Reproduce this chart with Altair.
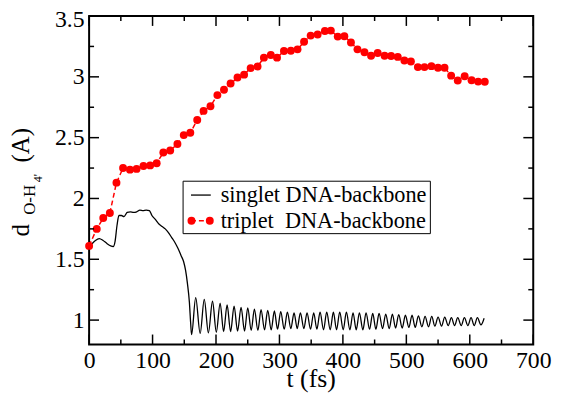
import altair as alt
import pandas as pd

# ---------------- data ----------------
trip_t = [0, 12, 22.3, 32.7, 43.1, 53.5, 64.4, 74.8, 85.7, 96.2,
          106.5, 117, 127.8, 139.2, 149.2, 159.5, 170.4, 180.4, 191.3, 202.2,
          212.6, 223, 233.9, 244.3, 254.6, 265.5, 275.5, 286.4, 296.2, 307.1,
          318, 328.5, 338.8, 349.2, 360.2, 371.6, 381, 391.9, 402.3, 412.7,
          423, 434, 444.4, 454.8, 465.7, 476, 486.5, 496.9, 507.2, 518.2,
          528.6, 539.5, 549.9, 560.2, 570.6, 581, 591.9, 602.8, 613.2, 623.6]
trip_y = [1.61, 1.75, 1.84, 1.88, 2.13, 2.25, 2.237, 2.243, 2.267, 2.272,
          2.289, 2.378, 2.394, 2.448, 2.521, 2.54, 2.645, 2.72, 2.758, 2.85,
          2.894, 2.945, 2.994, 3.018, 3.072, 3.085, 3.158, 3.18, 3.158, 3.212,
          3.215, 3.226, 3.288, 3.339, 3.348, 3.377, 3.38, 3.331, 3.334, 3.283,
          3.226, 3.202, 3.174, 3.196, 3.174, 3.172, 3.164, 3.134, 3.126, 3.08,
          3.08, 3.088, 3.075, 3.075, 3.01, 2.97, 3.005, 2.972, 2.961, 2.96]

sing_t = [0, 5, 10, 16, 22, 28, 34, 38, 41, 44, 47, 51, 55, 60, 65, 70, 75, 80, 85, 90,
          95, 99, 104, 110, 115, 120, 125, 130, 135, 140, 145, 149, 152, 155, 158, 160, 161.5,
          168, 175, 181.5, 188, 194.5, 200.5, 206.5, 212, 217.5, 223, 228.5, 234, 239.5, 245,
          250, 255.5, 260.5, 266, 271, 276.5, 281.5, 287, 292, 297, 302, 307.5, 312.5, 318,
          323, 328, 333, 338.5, 343.5, 349, 354, 359, 364, 369.5, 374.5, 380, 385, 390,
          395, 400.5, 405.5, 411, 416, 421, 426, 431.5, 436.5, 442, 447, 452, 457, 462.5,
          467.5, 473, 478, 483, 488, 493.5, 498.5, 504, 509, 514, 519, 524.5, 529.5, 535,
          540, 545, 550, 555.5, 560.5, 566, 571, 576, 581, 586.5, 591.5, 597, 602, 607,
          612, 617.5, 622.6]
sing_y = [1.60, 1.63, 1.655, 1.67, 1.655, 1.63, 1.61, 1.605, 1.65, 1.78, 1.86, 1.86, 1.85, 1.885,
          1.89, 1.885, 1.89, 1.905, 1.90, 1.905,
          1.90, 1.86, 1.83, 1.79, 1.77, 1.75, 1.72, 1.68, 1.64, 1.59, 1.53, 1.48, 1.41, 1.30,
          1.15, 0.98, 0.88,
          1.185, 0.89, 1.17, 0.895, 1.155, 0.90, 1.14, 0.905, 1.125, 0.905, 1.115, 0.91, 1.105, 0.91,
          1.10, 0.915, 1.09, 0.915, 1.085, 0.92, 1.08, 0.92, 1.075, 0.925, 1.07, 0.925, 1.065, 0.93,
          1.06, 0.93, 1.06, 0.93, 1.06, 0.925, 1.06, 0.925, 1.065, 0.92, 1.065, 0.92, 1.065, 0.92,
          1.065, 0.92, 1.065, 0.92, 1.06, 0.92, 1.06, 0.92, 1.06, 0.925, 1.055, 0.925, 1.055, 0.93,
          1.05, 0.93, 1.05, 0.935, 1.045, 0.935, 1.04, 0.94, 1.04, 0.94, 1.035, 0.945, 1.03, 0.945,
          1.03, 0.95, 1.025, 0.95, 1.025, 0.955, 1.02, 0.955, 1.02, 0.955, 1.02, 0.955, 1.02, 0.955,
          1.02, 0.96, 1.015]

x_major = [0, 100, 200, 300, 400, 500, 600, 700]
x_minor = [50, 150, 250, 350, 450, 550, 650]
y_major = [1.0, 1.5, 2.0, 2.5, 3.0, 3.5]
y_minor = [1.25, 1.75, 2.25, 2.75, 3.25]

legend_labels = ["singlet DNA-backbone", "triplet\u00a0 DNA-backbone"]
x_title = "t (fs)"
y_title_parts = ["d", "O-H", "4'", "(A)"]

# ---------------- styling ----------------
W, H = 449, 332
FONT = "Liberation Serif"
RED = "#ff0000"
MAJ, MIN = 10, 5

xs = alt.Scale(domain=[0, 700], nice=False, zero=False)
ys = alt.Scale(domain=[0.8, 3.5], nice=False, zero=False)

sing = pd.DataFrame({"t": sing_t, "d": sing_y})
trip = pd.DataFrame({"t": trip_t, "d": trip_y})
one = pd.DataFrame({"a": [0]})

xaxis = alt.Axis(values=x_major, format="d", ticks=True, tickSize=0, tickColor="transparent",
                 domain=False, grid=False, labelFlush=False,
                 labelFont=FONT, labelFontSize=24, labelColor="black",
                 labelBaseline="alphabetic", labelPadding=23, title=None)
yaxis = alt.Axis(values=y_major, labelExpr="datum.value + ''", ticks=True, tickSize=0,
                 tickColor="transparent", domain=False, grid=False, labelFlush=False,
                 labelFont=FONT, labelFontSize=24, labelColor="black", labelPadding=5,
                 labelOffset={"condition": {"test": "datum.value === 3.5", "value": 4}, "value": 0},
                 title=None)

X = lambda f: alt.X(f, scale=xs, axis=xaxis)
Y = lambda f: alt.Y(f, scale=ys, axis=yaxis)

singlet = alt.Chart(sing).mark_line(color="black", strokeWidth=1.3, interpolate="monotone").encode(
    x=X("t:Q"), y=Y("d:Q"))
trip_line = alt.Chart(trip).mark_line(color=RED, strokeWidth=1.5, strokeDash=[5, 3]).encode(
    x=X("t:Q"), y=Y("d:Q"))
trip_pts = alt.Chart(trip).mark_circle(color=RED, size=64, opacity=1).encode(
    x=X("t:Q"), y=Y("d:Q"))

def xticks(vals, length):
    df = pd.DataFrame({"t": vals})
    bottom = alt.Chart(df).mark_rule(color="black", strokeWidth=1.5).encode(
        x=X("t:Q"), y=alt.value(H), y2=alt.value(H - length))
    top = alt.Chart(df).mark_rule(color="black", strokeWidth=1.5).encode(
        x=X("t:Q"), y=alt.value(0), y2=alt.value(length))
    return [bottom, top]

def yticks(vals, length):
    df = pd.DataFrame({"d": vals})
    left = alt.Chart(df).mark_rule(color="black", strokeWidth=1.5).encode(
        y=Y("d:Q"), x=alt.value(0), x2=alt.value(length))
    right = alt.Chart(df).mark_rule(color="black", strokeWidth=1.5).encode(
        y=Y("d:Q"), x=alt.value(W), x2=alt.value(W - length))
    return [left, right]

ticks = xticks(x_major, MAJ) + xticks(x_minor, MIN) + yticks(y_major, MAJ) + yticks(y_minor, MIN)

# legend (drawn by hand, as in the original figure)
leg_box = alt.Chart(one).mark_rect(fill="white", stroke="black", strokeWidth=1).encode(
    x=alt.value(95), x2=alt.value(345), y=alt.value(167), y2=alt.value(220))
leg_l1 = alt.Chart(one).mark_rule(color="black", strokeWidth=1.3).encode(
    x=alt.value(103), x2=alt.value(123), y=alt.value(181))
leg_l2 = alt.Chart(one).mark_rule(color=RED, strokeWidth=1.5, strokeDash=[5, 3]).encode(
    x=alt.value(103), x2=alt.value(122), y=alt.value(207))
leg_p1 = alt.Chart(one).mark_circle(color=RED, size=64, opacity=1).encode(
    x=alt.value(103.5), y=alt.value(207))
leg_p2 = alt.Chart(one).mark_circle(color=RED, size=64, opacity=1).encode(
    x=alt.value(122), y=alt.value(207))
leg_t1 = alt.Chart(one).mark_text(text=legend_labels[0], align="left", baseline="middle",
                                  font=FONT, fontSize=22.5, color="black").encode(
    x=alt.value(133), y=alt.value(181))
leg_t2 = alt.Chart(one).mark_text(text=legend_labels[1], align="left", baseline="middle",
                                  font=FONT, fontSize=22.5, color="black").encode(
    x=alt.value(133), y=alt.value(207))

# axis titles
xt = alt.Chart(one).mark_text(text=x_title, align="center", baseline="alphabetic",
                              font=FONT, fontSize=26, color="black").encode(
    x=alt.value(W / 2), y=alt.value(375))
yt_d = alt.Chart(one).mark_text(text=y_title_parts[0], align="left", baseline="alphabetic",
                                angle=270, font=FONT, fontSize=25, color="black").encode(
    x=alt.value(-61), y=alt.value(223))
yt_sub = alt.Chart(one).mark_text(text=y_title_parts[1], align="left", baseline="alphabetic",
                                  angle=270, font=FONT, fontSize=17, color="black").encode(
    x=alt.value(-55), y=alt.value(201))
yt_sub2 = alt.Chart(one).mark_text(text=y_title_parts[2], align="left", baseline="alphabetic",
                                   angle=270, font=FONT, fontSize=12, color="black").encode(
    x=alt.value(-48), y=alt.value(168))
yt_a = alt.Chart(one).mark_text(text=y_title_parts[3], align="left", baseline="alphabetic",
                                angle=270, font=FONT, fontSize=25, color="black").encode(
    x=alt.value(-61), y=alt.value(148))

chart = alt.layer(
    singlet, trip_line, trip_pts, *ticks,
    leg_box, leg_l1, leg_l2, leg_p1, leg_p2, leg_t1, leg_t2,
    xt, yt_d, yt_sub, yt_sub2, yt_a,
).properties(
    width=W, height=H,
    autosize=alt.AutoSizeParams(type="none"),
    padding={"left": 82, "top": 6, "right": 22, "bottom": 48},
).configure_view(stroke="black", strokeWidth=2)

chart.save("out.html", embed_options={"renderer": "svg", "actions": False})
